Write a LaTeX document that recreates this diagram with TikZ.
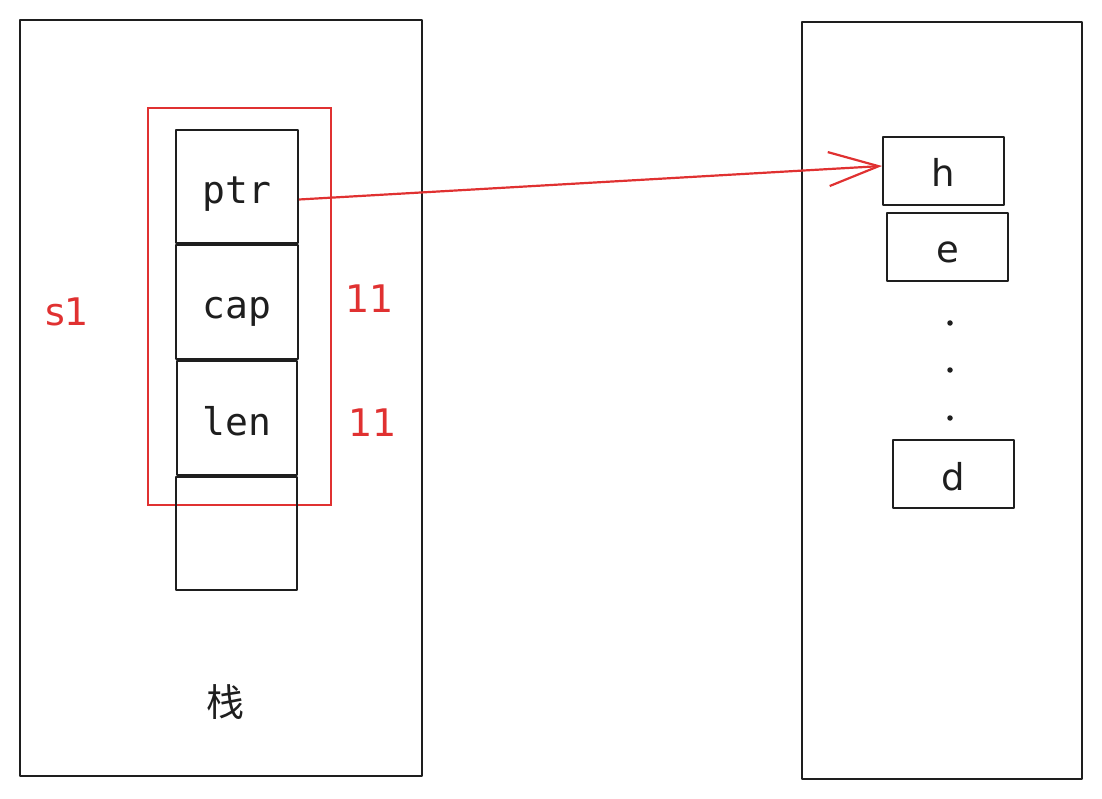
\documentclass[tikz,border=0pt]{standalone}
\usepackage{fontspec}
\setmainfont{DejaVu Sans}
\newfontfamily\monofont{DejaVu Sans Mono}
\newfontfamily\cjk{Noto Sans CJK SC}
\usetikzlibrary{arrows.meta}
\definecolor{ink}{HTML}{1E1E1E}
\definecolor{redink}{HTML}{E03131}
\tikzset{
  sk/.style={draw=ink, line width=1.9pt, line join=round, inner sep=0pt, rectangle},
  field/.style={sk, minimum width=122pt, minimum height=113pt, font=\monofont\fontsize{38}{40}\selectfont, text=ink, text height=34pt, text depth=0pt},
  cell/.style={sk, minimum width=121pt, minimum height=68pt, font=\fontsize{37}{40}\selectfont, text=ink, text height=32pt, text depth=0pt},
  redlab/.style={text=redink, font=\fontsize{38}{40}\selectfont, inner sep=0pt},
  dotnode/.style={circle, fill=ink, minimum size=5.5pt, inner sep=0pt},
}
\begin{document}
\begin{tikzpicture}[x=1pt,y=-1pt]
\useasboundingbox (0,0) rectangle (1102,799);
% big frames
\node[sk, minimum width=402pt, minimum height=756pt] (stack) at (221,398) {};
\node[sk, minimum width=280pt, minimum height=757pt] (heap) at (942,400.5) {};
% red group
\node[draw=redink, line width=1.8pt, minimum width=183pt, minimum height=397pt, inner sep=0pt] (grp) at (239.5,306.5) {};
% fields
\node[field] (ptr) at (237,186.5) {ptr};
\node[field, minimum height=114pt] (cap) at (237,302) {cap};
\node[field, minimum width=120pt, minimum height=114pt] (len) at (237,418) {len};
\node[field, minimum width=121pt] (empty) at (236.5,533.5) {};
% labels
\node[redlab] (s1) at (67,312) {s1};
\node[redlab] (capv) at (370,299) {11};
\node[redlab] (lenv) at (373,423) {11};
\node[text=ink, font=\cjk\fontsize{38}{40}\selectfont, inner sep=0pt] (zhan) at (225,702) {栈};
% heap cells
\node[cell] (h) at (943.5,171) {h};
\node[cell] (e) at (947.5,247) {e};
\node[dotnode] (d1) at (950,323) {};
\node[dotnode] (d2) at (950,370) {};
\node[dotnode] (d3) at (950,418) {};
\node[cell] (d) at (953.5,474) {d};
% pointer arrow
\draw[draw=redink, line width=2.2pt, -{Straight Barb[length=50pt,width=34pt,line width=2.2pt]}]
  ([yshift=-13pt]ptr.east) -- ([yshift=5pt]h.west);
\end{tikzpicture}
\end{document}
